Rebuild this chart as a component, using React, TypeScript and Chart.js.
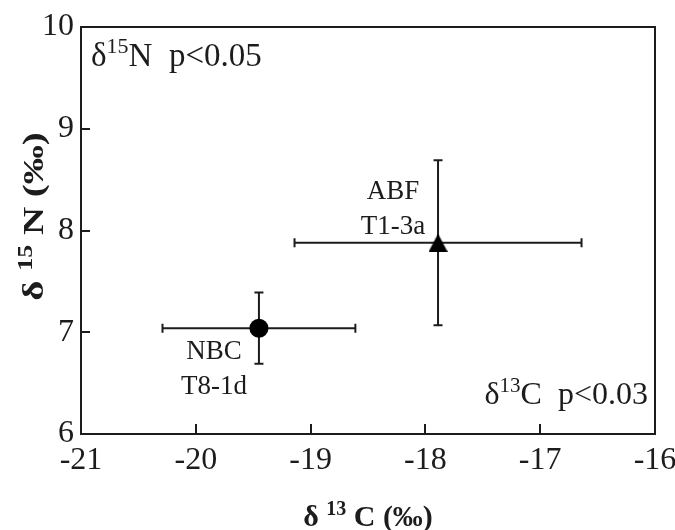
import React, { useEffect, useRef } from 'react';
import { Chart, registerables } from 'chart.js';

Chart.register(...registerables);

// ---- data ----
const sampleNames = ['NBC', 'ABF'];
const sampleCodes = ['T8-1d', 'T1-3a'];
const carbonMeans = [-19.45, -17.89];
const carbonErrors = [0.84, 1.25];
const nitrogenMeans = [7.04, 7.88];
const nitrogenErrors = [0.35, 0.81];
const markerShapes = ['circle', 'triangle'];
const xTickValues = [-21, -20, -19, -18, -17, -16];
const yTickValues = [6, 7, 8, 9, 10];
const nitrogenStat = ['δ', '15', 'N  p<0.05'];
const carbonStat = ['δ', '13', 'C  p<0.03'];
const xTitleParts = ['δ ', '13', ' C (‰)'];
const yTitleParts = ['δ ', '15', ' N (‰)'];

const INK = '#1c1c1c';
const SERIF = '"Liberation Serif", "Times New Roman", serif';

type Part = [string, boolean];

function drawRich(
  ctx: CanvasRenderingContext2D,
  parts: Part[],
  x: number,
  y: number,
  size: number,
  bold: boolean,
  align: 'left' | 'right' | 'center',
  stretch = 1
) {
  const fontFor = (sup: boolean) =>
    `${bold ? 'bold ' : ''}${sup ? Math.round(size * 0.66) : size}px ${SERIF}`;
  const widths = parts.map(([t, sup]) => {
    ctx.font = fontFor(sup);
    return ctx.measureText(t).width * stretch;
  });
  const total = widths.reduce((a, b) => a + b, 0);
  let cx = align === 'left' ? x : align === 'right' ? x - total : x - total / 2;
  ctx.textAlign = 'left';
  ctx.textBaseline = 'alphabetic';
  parts.forEach(([t, sup], i) => {
    ctx.font = fontFor(sup);
    ctx.save();
    ctx.translate(cx, sup ? y - size * 0.38 : y);
    ctx.scale(stretch, 1);
    ctx.fillText(t, 0, 0);
    ctx.restore();
    cx += widths[i];
  });
}

const toParts = (arr: string[]): Part[] => arr.map((t, i) => [t, i === 1]);

function makeTriangle(): HTMLCanvasElement {
  const c = document.createElement('canvas');
  c.width = 19;
  c.height = 18;
  const g = c.getContext('2d')!;
  g.fillStyle = '#000';
  g.beginPath();
  g.moveTo(9.5, 0);
  g.lineTo(19, 18);
  g.lineTo(0, 18);
  g.closePath();
  g.fill();
  return c;
}

const decorPlugin = {
  id: 'decor',
  beforeDatasetsDraw(chart: any) {
    const { ctx, scales } = chart;
    const xs = scales.x;
    const ys = scales.y;
    ctx.save();
    ctx.strokeStyle = INK;
    ctx.lineWidth = 2;
    const cap = 4.5;
    carbonMeans.forEach((cx, i) => {
      const px = xs.getPixelForValue(cx);
      const py = ys.getPixelForValue(nitrogenMeans[i]);
      const xl = xs.getPixelForValue(cx - carbonErrors[i]);
      const xr = xs.getPixelForValue(cx + carbonErrors[i]);
      const yt = ys.getPixelForValue(nitrogenMeans[i] + nitrogenErrors[i]);
      const yb = ys.getPixelForValue(nitrogenMeans[i] - nitrogenErrors[i]);
      ctx.beginPath();
      ctx.moveTo(xl, py);
      ctx.lineTo(xr, py);
      ctx.moveTo(xl, py - cap);
      ctx.lineTo(xl, py + cap);
      ctx.moveTo(xr, py - cap);
      ctx.lineTo(xr, py + cap);
      ctx.moveTo(px, yt);
      ctx.lineTo(px, yb);
      ctx.moveTo(px - cap, yt);
      ctx.lineTo(px + cap, yt);
      ctx.moveTo(px - cap, yb);
      ctx.lineTo(px + cap, yb);
      ctx.stroke();
    });
    ctx.restore();
  },
  afterDraw(chart: any) {
    const { ctx, chartArea, scales } = chart;
    const xs = scales.x;
    const ys = scales.y;
    const { left, right, top, bottom } = chartArea;
    ctx.save();
    ctx.strokeStyle = INK;
    ctx.fillStyle = INK;
    ctx.lineWidth = 2;
    ctx.strokeRect(left, top, right - left, bottom - top);
    // inward ticks
    ctx.beginPath();
    xTickValues.slice(1, -1).forEach((v) => {
      const px = Math.round(xs.getPixelForValue(v));
      ctx.moveTo(px, bottom);
      ctx.lineTo(px, bottom - 10);
    });
    yTickValues.slice(1, -1).forEach((v) => {
      const py = Math.round(ys.getPixelForValue(v));
      ctx.moveTo(left, py);
      ctx.lineTo(left + 9, py);
    });
    ctx.stroke();

    // statistics annotations
    drawRich(ctx, toParts(nitrogenStat), left + 10, top + 39, 33, false, 'left');
    drawRich(ctx, toParts(carbonStat), right - 7, bottom - 30, 32, false, 'right');

    // sample labels
    ctx.font = `27px ${SERIF}`;
    ctx.textAlign = 'center';
    ctx.textBaseline = 'alphabetic';
    carbonMeans.forEach((cx, i) => {
      const px = xs.getPixelForValue(cx);
      const py = ys.getPixelForValue(nitrogenMeans[i]);
      const lx = px - 45;
      const base = i === 0 ? py + 31 : py - 44;
      ctx.fillText(sampleNames[i], lx, base);
      ctx.fillText(sampleCodes[i], lx, base + 35);
    });

    // axis titles
    drawRich(ctx, toParts(xTitleParts), (left + right) / 2, 526, 30, true, 'center');
    ctx.translate(43, (top + bottom) / 2 - 14);
    ctx.rotate(-Math.PI / 2);
    drawRich(ctx, toParts(yTitleParts), 0, 0, 30, true, 'center', 1.3);
    ctx.restore();
  },
};

export default function App() {
  const canvasRef = useRef<HTMLCanvasElement | null>(null);

  useEffect(() => {
    if (!canvasRef.current) return;
    const triangle = makeTriangle();
    const chart = new Chart(canvasRef.current, {
      type: 'scatter',
      data: {
        datasets: sampleNames.map((name, i) => ({
          label: name,
          data: [{ x: carbonMeans[i], y: nitrogenMeans[i] }],
          pointStyle: (markerShapes[i] === 'triangle' ? triangle : markerShapes[i]) as any,
          pointRadius: 9.5,
          pointHoverRadius: 9.5,
          backgroundColor: '#000',
          borderColor: '#000',
          borderWidth: 0,
        })),
      },
      options: {
        responsive: false,
        animation: false,
        events: [],
        layout: { padding: { top: 27, right: 20, left: 0, bottom: 0 } },
        plugins: {
          legend: { display: false },
          tooltip: { enabled: false },
          title: { display: false },
        },
        scales: {
          x: {
            type: 'linear',
            min: -21,
            max: -16,
            afterBuildTicks: (scale: any) => {
              scale.ticks = xTickValues.map((v) => ({ value: v }));
            },
            afterFit: (scale: any) => {
              scale.height = 96;
              scale.paddingLeft = 0;
              scale.paddingRight = 0;
            },
            ticks: {
              font: { family: SERIF, size: 32 },
              color: INK,
              padding: 7,
              maxRotation: 0,
              autoSkip: false,
            },
            grid: { display: false, drawTicks: false },
            border: { display: false },
          },
          y: {
            type: 'linear',
            min: 6,
            max: 10,
            afterBuildTicks: (scale: any) => {
              scale.ticks = yTickValues.map((v) => ({ value: v }));
            },
            afterFit: (scale: any) => {
              scale.width = 81;
              scale.paddingTop = 0;
              scale.paddingBottom = 0;
            },
            ticks: {
              font: { family: SERIF, size: 32 },
              color: INK,
              padding: 7,
              autoSkip: false,
            },
            grid: { display: false, drawTicks: false },
            border: { display: false },
          },
        },
      },
      plugins: [decorPlugin],
    });
    return () => chart.destroy();
  }, []);

  return (
    <div style={{ position: 'absolute', left: 0, top: 0, width: 675, height: 530, background: '#fff' }}>
      <canvas ref={canvasRef} width={675} height={530} />
    </div>
  );
}
